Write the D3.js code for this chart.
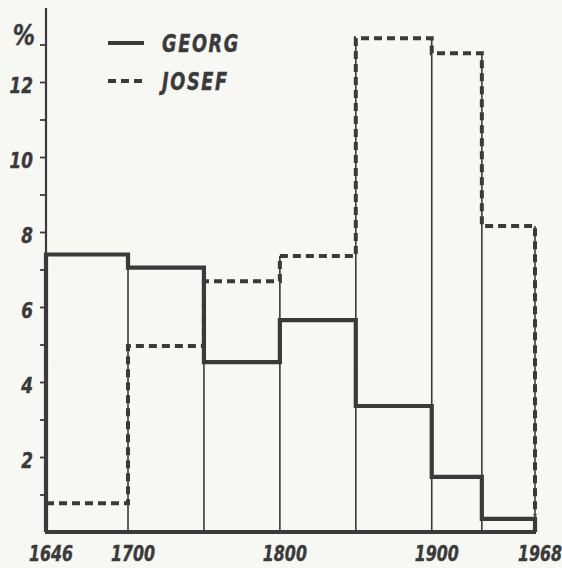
<!DOCTYPE html>
<html>
<head>
<meta charset="utf-8">
<script src="https://cdn.jsdelivr.net/npm/d3@7"></script>
<style>
  body { margin: 0; background: #f7f7f4; }
  svg { display: block; }
  text { font-family: "DejaVu Sans Condensed", "DejaVu Sans", sans-serif; font-style: italic; font-weight: bold; fill: #3a3a3a; }
</style>
</head>
<body>
<svg id="chart" width="562" height="568"></svg>
<script>
// bin edges (years) and percent shares per bin
const edges = [1646, 1700, 1750, 1800, 1850, 1900, 1933, 1968];
const georg = [7.4, 7.05, 4.53, 5.65, 3.36, 1.47, 0.35];
const josef = [0.77, 4.96, 6.69, 7.36, 13.17, 12.77, 8.16];
const xTickLabels = [1646, 1700, 1800, 1900, 1968];
const yTickLabels = [2, 4, 6, 8, 10, 12];

const ink = "#3a3a3a";
const svg = d3.select("#chart");

const x = d3.scaleLinear().domain([1646, 1968]).range([46, 535]);
const y = d3.scaleLinear().domain([0, 13]).range([532, 44.5]);

// narrow lettering, like the stencil type of the original
function label(px, py, str, size, anchor, sx) {
  return svg.append("text")
    .attr("transform", `translate(${px},${py}) scale(${sx},1)`)
    .attr("text-anchor", anchor)
    .attr("font-size", size)
    .attr("stroke", ink).attr("stroke-width", 0.4)
    .text(str);
}

// thin bin outlines
const g = svg.append("g");
edges.forEach((e, i) => {
  const neigh = [georg[i - 1], georg[i], josef[i - 1], josef[i]].filter(v => v !== undefined);
  const top = i === 0 ? georg[0] : d3.max(neigh);
  g.append("line")
    .attr("x1", x(e)).attr("x2", x(e))
    .attr("y1", y(0)).attr("y2", y(top))
    .attr("stroke", ink).attr("stroke-width", 1.6);
});

// y axis
const yAxis = d3.axisLeft(y).tickValues(d3.range(1, 14)).tickSize(6).tickFormat("");
const ya = svg.append("g").attr("transform", `translate(${x(1646)},0)`).call(yAxis);
ya.select(".domain").remove();
ya.selectAll(".tick line").attr("stroke", ink).attr("stroke-width", 1.8);
svg.append("line")
  .attr("x1", x(1646)).attr("x2", x(1646))
  .attr("y1", 8).attr("y2", y(0))
  .attr("stroke", ink).attr("stroke-width", 2.2);

yTickLabels.forEach(d => label(33, y(d) + 11, d, 22, "end", 0.85));
label(35, y(13), "%", 29, "end", 0.85);

// step paths
const stepPts = (vals, startY, endY) => {
  const pts = [[edges[0], startY]];
  vals.forEach((v, i) => { pts.push([edges[i], v]); pts.push([edges[i + 1], v]); });
  pts.push([edges[edges.length - 1], endY]);
  return pts;
};
const line = d3.line().x(d => x(d[0])).y(d => y(d[1]));

svg.append("path")
  .attr("d", line(stepPts(josef, josef[0], 0.45).slice(1)))
  .attr("fill", "none").attr("stroke", ink).attr("stroke-width", 4)
  .attr("stroke-dasharray", "8,5");

svg.append("path")
  .attr("d", line(stepPts(georg, 0, 0)))
  .attr("fill", "none").attr("stroke", ink).attr("stroke-width", 4.2)
  .attr("stroke-linejoin", "miter");

// baseline
svg.append("line")
  .attr("x1", x(1646) - 1).attr("x2", x(1968) + 1)
  .attr("y1", y(0)).attr("y2", y(0))
  .attr("stroke", ink).attr("stroke-width", 4.2);

// x labels
xTickLabels.forEach(d => label(x(d) + 5, 561, d, 22, "middle", 0.8));

// legend
const legend = [
  { name: "GEORG", dash: null, yy: 43 },
  { name: "JOSEF", dash: "8,5", yy: 81 }
];
legend.forEach(l => {
  svg.append("line")
    .attr("x1", 108).attr("x2", 144).attr("y1", l.yy).attr("y2", l.yy)
    .attr("stroke", ink).attr("stroke-width", 4)
    .attr("stroke-dasharray", l.dash);
  label(162, l.yy + 9, l.name, 24, "start", 0.82).attr("letter-spacing", 2);
});
</script>
</body>
</html>
